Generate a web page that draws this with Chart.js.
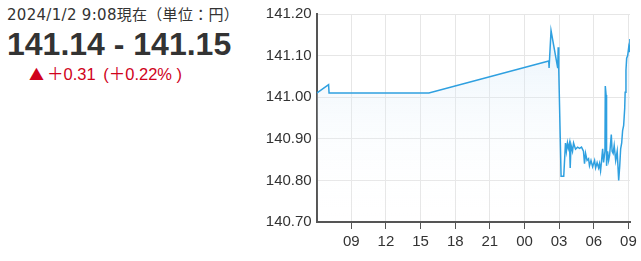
<!DOCTYPE html>
<html lang="ja">
<head>
<meta charset="UTF-8">
<title>ドル円チャート</title>
<script src="https://cdn.jsdelivr.net/npm/chart.js"></script>
<style>
    body { margin: 0; width: 641px; height: 261px; background: #fff; overflow: hidden; color: #333; }
    .line1 { position: absolute; left: 7px; top: 3px; font: 15px "DejaVu Sans", "Noto Sans CJK JP", sans-serif; letter-spacing: 0.3px; white-space: nowrap; }
    .line2 { position: absolute; left: 7px; top: 28px; font: bold 32px/32px "Liberation Sans", Arial, sans-serif; white-space: nowrap; }
    .line3 { position: absolute; left: 29px; top: 65px; font: 16.5px/18px "Liberation Sans", Arial, "Noto Sans CJK JP", sans-serif; color: #d0021b; white-space: nowrap; }
    .line3 .mark { font-family: "Noto Sans CJK JP", sans-serif; font-size: 15px; margin-right: 3px; }
    .line3 .gap { margin-left: 3px; }
    #wrap { position: absolute; left: 250px; top: 0; width: 391px; height: 261px; }
</style>
</head>
<body>
<div class="line1">2024/1/2 9:08現在（単位：円）</div>
<div class="line2">141.14 - 141.15</div>
<div class="line3"><span class="mark">▲</span>＋0.31 <span class="gap">(</span>＋0.22% )</div>
<div id="wrap"><canvas id="chart" width="391" height="261"></canvas></div>

<script>
    // 時刻は 2024/1/1 00:00 からの経過時間（h）
    const times = [
        6.00, 7.03, 7.07, 15.72, 26.10, 26.13, 26.30, 26.88, 26.92, 26.97,
        27.17, 27.40, 27.55, 27.63, 27.72, 27.80, 27.90, 27.96, 28.03, 28.16,
        28.25, 28.42, 28.60, 28.77, 28.94, 29.11, 29.20, 29.29, 29.42, 29.55,
        29.63, 29.76, 29.90, 30.07, 30.16, 30.29, 30.42, 30.50, 30.59, 30.68,
        30.77, 30.85, 30.97, 31.00, 31.07, 31.11, 31.20, 31.29, 31.37, 31.52,
        31.59, 31.68, 31.77, 31.90, 32.03, 32.16, 32.25, 32.33, 32.42, 32.50,
        32.59, 32.68, 32.72, 32.79, 32.85, 32.94, 33.03, 33.09, 33.13
    ];
    const prices = [
        141.01, 141.03, 141.01, 141.01, 141.087, 141.07, 141.16, 141.07, 141.12, 141.065,
        140.81, 140.81, 140.89, 140.87, 140.89, 140.877, 140.89, 140.83, 140.885, 140.87,
        140.89, 140.875, 140.88, 140.877, 140.88, 140.87, 140.84, 140.865, 140.848, 140.852,
        140.835, 140.848, 140.833, 140.848, 140.83, 140.843, 140.83, 140.84, 140.823, 140.848,
        140.876, 140.843, 140.87, 141.027, 141.005, 140.835, 140.87, 140.848, 140.86, 140.91,
        140.87, 140.865, 140.884, 140.848, 140.87, 140.80, 140.835, 140.876, 140.89, 140.92,
        140.932, 140.973, 141.012, 141.065, 141.094, 141.10, 141.12, 141.11, 141.14
    ];
    const xTickHours = [9, 12, 15, 18, 21, 24, 27, 30, 33];
    const yTickValues = [140.7, 140.8, 140.9, 141.0, 141.1, 141.2];

    const labelFont = { family: '"Liberation Sans", Arial, sans-serif', size: 15 };

    new Chart(document.getElementById('chart'), {
        type: 'line',
        data: {
            datasets: [{
                data: times.map((t, i) => ({ x: t, y: prices[i] })),
                borderColor: '#2fa0e0',
                borderWidth: 1.5,
                pointRadius: 0,
                tension: 0,
                fill: 'start',
                backgroundColor: function (ctx) {
                    const area = ctx.chart.chartArea;
                    if (!area) return 'rgba(0,0,0,0)';
                    const g = ctx.chart.ctx.createLinearGradient(0, area.top, 0, area.bottom);
                    g.addColorStop(0, 'rgba(200,226,246,0.45)');
                    g.addColorStop(1, 'rgba(255,255,255,0)');
                    return g;
                }
            }]
        },
        options: {
            responsive: false,
            animation: false,
            layout: { padding: { top: 14, right: 11, bottom: 0, left: 0 } },
            plugins: { legend: { display: false }, tooltip: { enabled: false } },
            scales: {
                x: {
                    type: 'linear',
                    min: 6,
                    max: 33.14,
                    afterBuildTicks: s => { s.ticks = xTickHours.map(v => ({ value: v })); },
                    afterFit: s => { s.height = 39; },
                    grid: { color: '#e6e6e6', tickColor: '#555', tickLength: 7 },
                    border: { color: '#555', width: 2 },
                    ticks: {
                        padding: 4, color: '#333', font: labelFont, maxRotation: 0, autoSkip: false,
                        callback: v => String(v % 24).padStart(2, '0')
                    }
                },
                y: {
                    min: 140.7,
                    max: 141.2,
                    afterBuildTicks: s => { s.ticks = yTickValues.map(v => ({ value: v })); },
                    afterFit: s => { s.width = 66.7; },
                    grid: { color: '#e6e6e6', drawTicks: false },
                    border: { color: '#555', width: 2 },
                    ticks: { padding: 5, color: '#333', font: labelFont, callback: v => v.toFixed(2) }
                }
            }
        }
    });
</script>
</body>
</html>
